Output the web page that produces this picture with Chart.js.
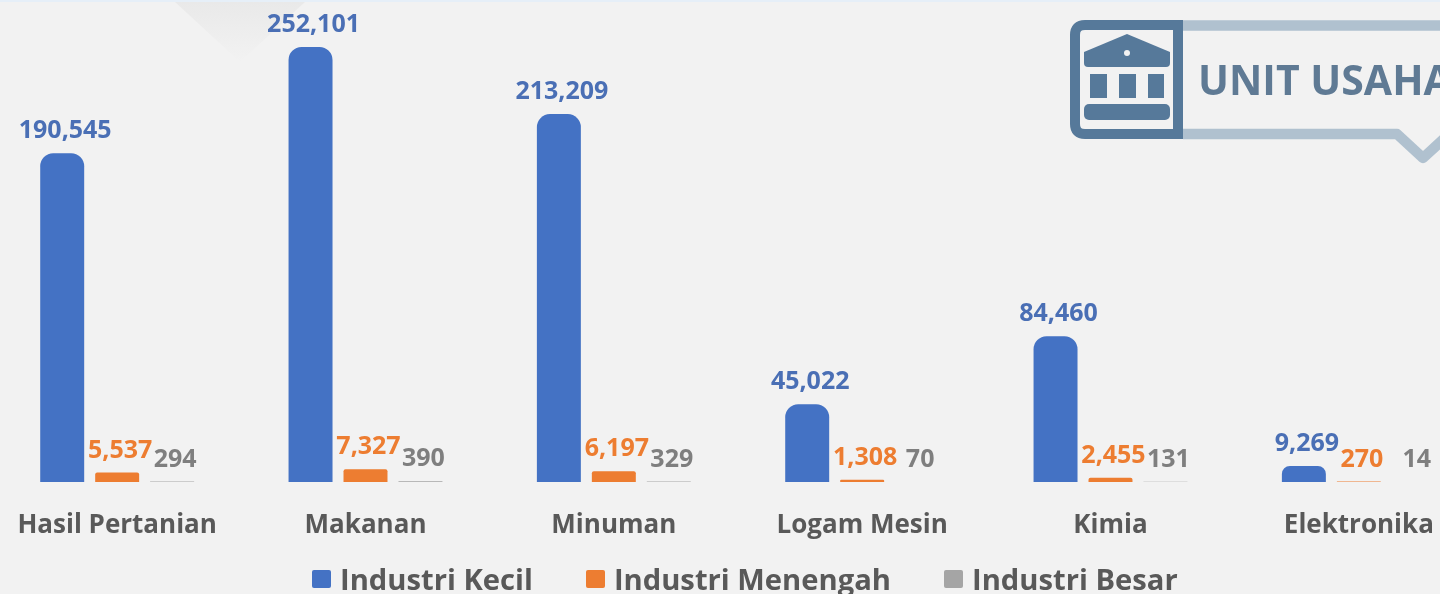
<!DOCTYPE html>
<html>
<head>
<meta charset="utf-8">
<title>Unit Usaha</title>
<script src="https://cdn.jsdelivr.net/npm/chart.js@4/dist/chart.umd.min.js"></script>
<style>
    html, body { margin: 0; padding: 0; width: 1440px; height: 594px; overflow: hidden; background: #f2f2f2; }
    #chart { position: absolute; left: -7px; top: 0; }
    #backdrop, #badge { position: absolute; left: 0; top: 0; }
    #legend { position: absolute; left: 312px; top: 560px; display: flex; gap: 53px; white-space: nowrap;
        font: 700 29.2px/38px 'Open Sans'; color: #595959; }
    #legend span { display: flex; align-items: center; }
    #legend i { display: block; width: 19px; height: 18px; margin-right: 9px; border-radius: 2px; }
</style>
</head>
<body>
<svg id="backdrop" width="1440" height="594" xmlns="http://www.w3.org/2000/svg">
    <defs>
        <linearGradient id="fade" x1="0" y1="0" x2="0" y2="1">
            <stop offset="0" stop-color="#e9e9e9"/>
            <stop offset="1" stop-color="#f2f2f2"/>
        </linearGradient>
    </defs>
    <rect x="0" y="0" width="1440" height="2" fill="#e6eff8"/>
    <polygon points="175,2 305,2 240,62" fill="url(#fade)"/>
</svg>
<canvas id="chart" width="1490" height="594" style="width:1490px;height:594px"></canvas>
<svg id="badge" width="1440" height="594" xmlns="http://www.w3.org/2000/svg">
    <!-- speech bubble frame -->
    <path d="M1183 25.5H1445M1183 134H1397L1423 158L1449 134" fill="none" stroke="#b0c1cf" stroke-width="10.5" stroke-linejoin="round"/>
    <!-- bank icon -->
    <path d="M1178 25H1085Q1075 25 1075 35V124Q1075 134 1085 134H1178Z" fill="#f2f2f2" stroke="#56799a" stroke-width="10"/>
    <path d="M1127 34L1084 52V63Q1084 67 1088 67H1166Q1170 67 1170 63V52Z" fill="#56799a"/>
    <circle cx="1127" cy="53" r="3" fill="#f2f2f2"/>
    <rect x="1090" y="74" width="17" height="24" fill="#56799a"/>
    <rect x="1119" y="74" width="17" height="24" fill="#56799a"/>
    <rect x="1148" y="74" width="16" height="24" fill="#56799a"/>
    <rect x="1084" y="104" width="86" height="16" rx="5" fill="#56799a"/>
    <text x="1198" y="95" font-family="'Open Sans'" font-weight="700" font-size="41" fill="#5f7a94">UNIT USAHA</text>
</svg>
<div id="legend"></div>
<script>
const categories = ['Hasil Pertanian', 'Makanan', 'Minuman', 'Logam Mesin', 'Kimia', 'Elektronika'];
const industriKecil = [190545, 252101, 213209, 45022, 84460, 9269];
const industriMenengah = [5537, 7327, 6197, 1308, 2455, 270];
const industriBesar = [294, 390, 329, 70, 131, 14];
const seriesNames = ['Industri Kecil', 'Industri Menengah', 'Industri Besar'];

const barColors = ['#4472c4', '#ed7d31', '#a5a5a5'];
const labelColors = ['#4a6fb5', '#ed7d31', '#7f7f7f'];
const FONT = "'Open Sans'";

// value labels above the bars, a bit right of centre like the original
const barLabels = {
    id: 'barLabels',
    afterDatasetsDraw(chart) {
        const ctx = chart.ctx;
        ctx.save();
        ctx.font = `700 25px ${FONT}`;
        ctx.textAlign = 'center';
        ctx.textBaseline = 'middle';
        chart.data.datasets.forEach((ds, i) => {
            ctx.fillStyle = labelColors[i];
            chart.getDatasetMeta(i).data.forEach((bar, j) => {
                ctx.fillText(ds.data[j].toLocaleString('en-US'), bar.x + 3, bar.y - 22);
            });
        });
        ctx.restore();
    }
};

const chart = new Chart(document.getElementById('chart'), {
    type: 'bar',
    data: {
        labels: categories,
        datasets: [
            { label: seriesNames[0], data: industriKecil, backgroundColor: barColors[0], borderRadius: { topLeft: 13, topRight: 13 }, borderSkipped: 'bottom' },
            { label: seriesNames[1], data: industriMenengah, backgroundColor: barColors[1], borderRadius: { topLeft: 2, topRight: 2 }, borderSkipped: 'bottom' },
            { label: seriesNames[2], data: industriBesar, backgroundColor: barColors[2], borderSkipped: 'bottom' }
        ]
    },
    options: {
        responsive: false,
        animation: false,
        layout: { padding: { bottom: 52 } },
        datasets: { bar: { barPercentage: 0.8, categoryPercentage: 0.664 } },
        scales: {
            x: {
                grid: { display: false, drawTicks: false },
                border: { display: false },
                afterFit(scale) {
                    scale.height = 60;
                    // long first label must not push the plot to the right
                    scale.paddingLeft = 0;
                    scale.paddingRight = 0;
                },
                ticks: {
                    padding: 28,
                    autoSkip: false,
                    maxRotation: 0,
                    color: '#595959',
                    font: { family: FONT, size: 26, weight: '700' }
                }
            },
            y: { display: false, min: 0, max: 279340 }
        },
        plugins: {
            tooltip: { enabled: false },
            legend: { display: false }
        }
    },
    plugins: [barLabels]
});

// legend sits in the page so the item spacing can follow the original
const legendBox = document.getElementById('legend');
chart.data.datasets.forEach((ds) => {
    const item = document.createElement('span');
    const swatch = document.createElement('i');
    swatch.style.background = ds.backgroundColor;
    item.append(swatch, ds.label);
    legendBox.append(item);
});
</script>
</body>
</html>
